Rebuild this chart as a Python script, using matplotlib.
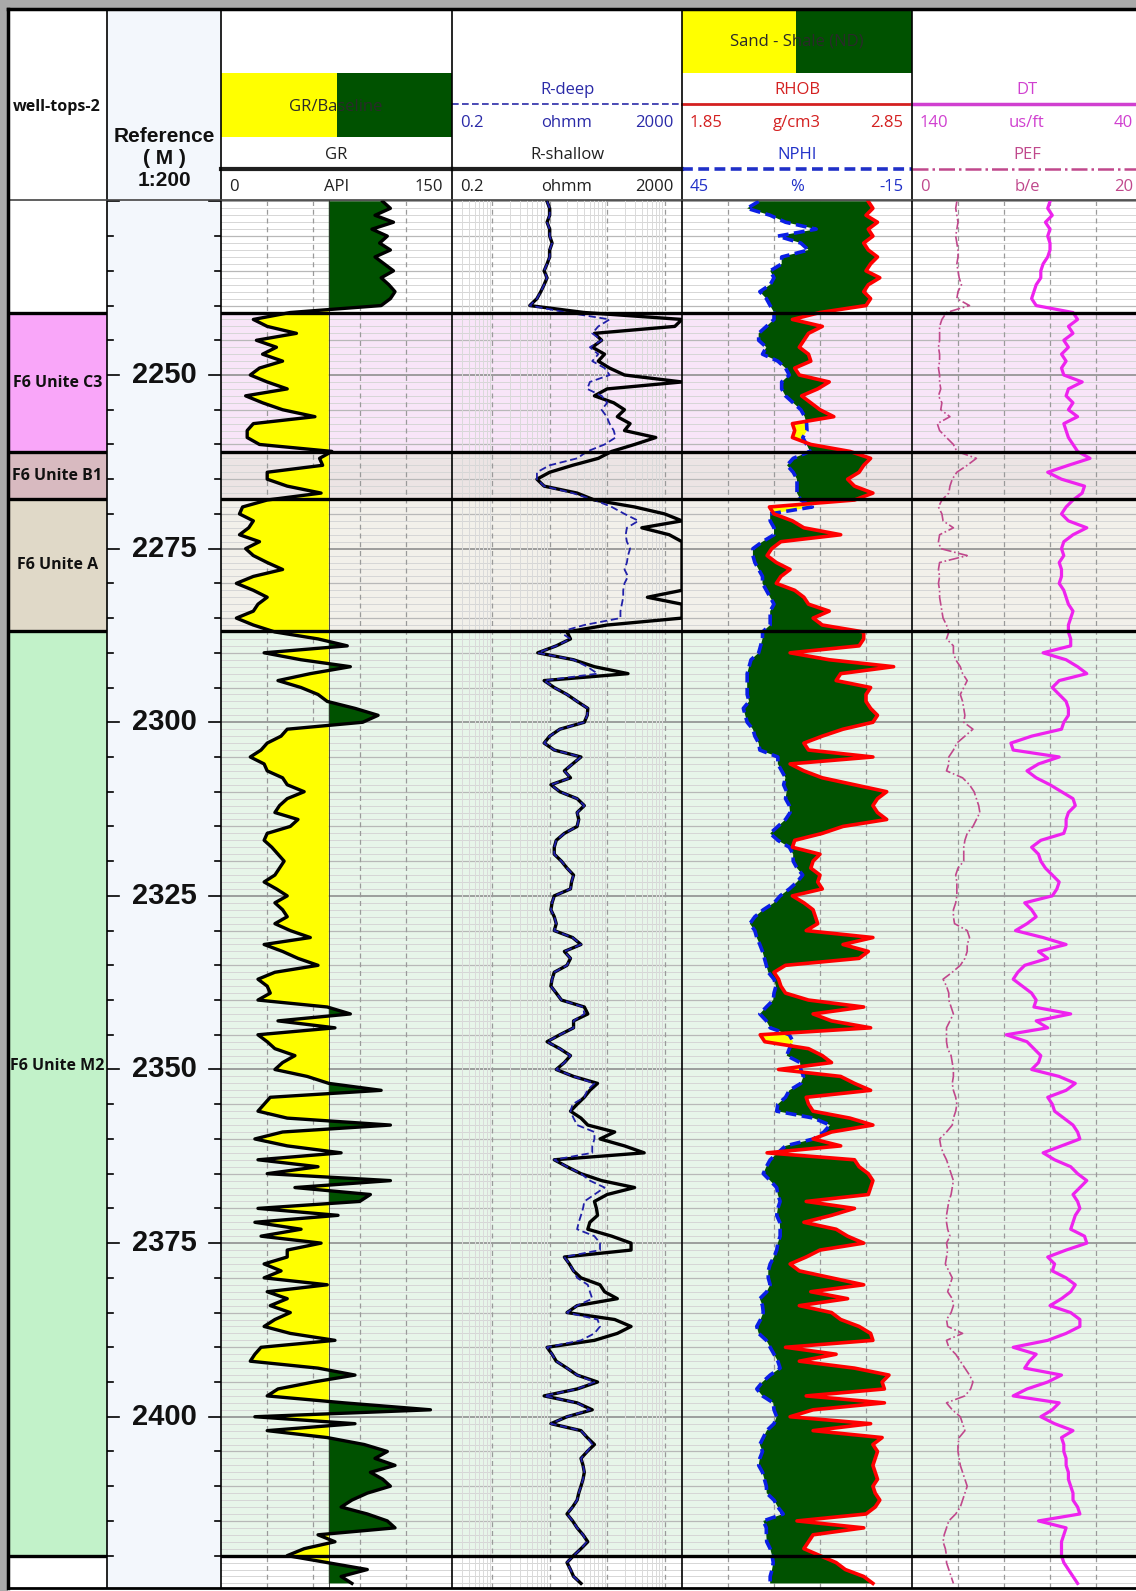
import numpy as np
import matplotlib
matplotlib.use("Agg")
import matplotlib.pyplot as plt
from matplotlib import font_manager
from matplotlib.patches import Rectangle

# ---- data (1 m samples, 2225 - 2424 m) ----
depth = np.arange(2225, 2425)

gr = [105, 110, 100, 112, 98, 108, 103, 110, 100, 106,
      112, 104, 109, 113, 110, 104, 45, 21, 30, 49,
      23, 36, 27, 40, 25, 19, 30, 43, 16, 27,
      40, 61, 21, 17, 17, 25, 72, 64, 66, 30,
      30, 43, 65, 30, 14, 12, 21, 18, 12, 25,
      16, 21, 30, 40, 21, 10, 21, 30, 24, 21,
      10, 21, 35, 63, 82, 28, 52, 84, 58, 37,
      52, 63, 69, 87, 102, 92, 43, 39, 30, 26,
      19, 28, 30, 40, 43, 54, 43, 38, 35, 50,
      45, 30, 28, 33, 37, 41, 38, 35, 28, 36,
      43, 35, 40, 43, 35, 45, 58, 28, 40, 50,
      63, 35, 24, 30, 32, 24, 69, 84, 37, 74,
      24, 30, 35, 48, 40, 35, 56, 70, 104, 32,
      28, 24, 43, 110, 40, 22, 43, 78, 24, 63,
      30, 110, 48, 97, 90, 24, 76, 22, 52, 26,
      65, 43, 43, 28, 39, 28, 69, 30, 43, 32,
      45, 35, 28, 45, 74, 26, 22, 19, 63, 87,
      60, 37, 30, 80, 136, 22, 87, 30, 69, 93,
      108, 100, 113, 97, 105, 110, 95, 85, 78, 95,
      108, 113, 63, 74, 54, 43, 69, 95, 78, 85]

r_shallow = [9, 10, 10, 9, 10, 10, 11, 10, 10, 9,
             8, 9, 8, 7, 6, 4.5, 40, 2000, 1500, 60,
             80, 55, 90, 70, 110, 200, 2000, 100, 60, 130,
             200, 150, 250, 200, 700, 300, 120, 70, 25, 10,
             6, 8, 30, 60, 300, 1000, 2000, 400, 1200, 2000,
             2000, 2000, 2000, 2000, 2000, 2000, 2000, 500, 2000, 2000,
             2000, 100, 20, 23, 13, 6.2, 26, 60, 230, 8,
             12, 20, 30, 46, 45, 40, 15, 10, 8, 12,
             35, 25, 18, 23, 10.5, 15, 30, 40, 30, 32,
             30, 18, 13, 12, 12, 16, 20, 26, 24, 23,
             12, 11, 10.5, 12, 13, 12, 25, 35, 18, 23,
             20, 12, 11, 10.5, 13, 16, 40, 46, 26, 26,
             15, 9, 15, 23, 18, 13, 26, 68, 50, 40,
             30, 23, 35, 46, 135, 75, 200, 440, 12, 20,
             35, 80, 300, 100, 60, 65, 68, 50, 46, 120,
             260, 260, 18, 22, 26, 35, 75, 90, 150, 30,
             20, 135, 260, 150, 60, 9, 11, 13, 20, 30,
             68, 30, 8, 30, 55, 20, 10.5, 35, 45, 60,
             45, 35, 38, 40, 38, 35, 32, 30, 25, 20,
             25, 30, 38, 46, 35, 26, 20, 23, 26, 35]

r_deep = [9, 10, 10, 9, 10, 10, 11, 10, 10, 9,
          8, 9, 8, 7, 6, 4.5, 20, 110, 70, 55,
          80, 50, 70, 55, 90, 110, 50, 45, 80, 100,
          80, 98, 110, 130, 140, 90, 45, 30, 10, 6,
          6, 8, 25, 60, 120, 200, 350, 220, 210, 220,
          250, 230, 220, 200, 230, 200, 190, 190, 180, 170,
          170, 40, 15, 23, 13, 6.2, 26, 45, 68, 8,
          12, 20, 30, 46, 45, 40, 15, 10, 8, 12,
          35, 25, 18, 23, 10.5, 15, 30, 40, 30, 32,
          30, 18, 13, 12, 12, 16, 20, 26, 24, 23,
          12, 11, 10.5, 12, 13, 12, 25, 35, 18, 23,
          20, 12, 11, 10.5, 13, 16, 38, 40, 26, 26,
          15, 9, 15, 23, 18, 13, 26, 60, 45, 40,
          25, 23, 26, 30, 60, 60, 55, 55, 12, 20,
          35, 50, 90, 60, 40, 38, 35, 32, 30, 60,
          75, 75, 18, 22, 26, 30, 46, 50, 55, 30,
          20, 68, 75, 60, 35, 9, 11, 13, 20, 30,
          60, 30, 8, 30, 50, 20, 10.5, 35, 45, 55,
          45, 35, 38, 40, 38, 35, 32, 30, 25, 20,
          25, 30, 38, 44, 35, 26, 20, 23, 26, 35]

nphi = [25, 28, 22, 18, 10, 20, 14, 12, 19, 19,
        22, 21, 22, 24.7, 23, 22, 21, 21, 23, 25,
        25, 23, 24, 20, 18, 17, 19, 19, 18, 16,
        14, 13, 12.5, 12.4, 13.5, 12.5, 11.6, 16, 17.6, 16,
        15, 15, 15, 14, 11, 22, 22, 21, 21, 24,
        26.5, 26.5, 26, 25, 24, 24, 23, 22, 21, 22,
        22, 22, 24, 24, 24.5, 25, 27, 27.5, 28, 28,
        28, 28, 27.5, 29, 28.5, 28, 26.5, 26, 25, 24.7,
        20, 20, 19, 18, 18.5, 17.7, 18, 17, 16.8, 18,
        20, 22, 20, 17, 16, 16, 15, 13.5, 15, 17,
        19.4, 21, 23.8, 26, 27.3, 26, 25.5, 24.7, 24, 23.5,
        23, 22.5, 21, 20.5, 21, 21.2, 23, 24.7, 23, 22,
        17, 16, 17, 17.7, 14.2, 14, 13.3, 14, 17, 18,
        20, 20.3, 10.7, 6.4, 8, 10.7, 18, 20, 22, 23,
        23.8, 22, 20.3, 20, 19.4, 20, 20.3, 19.5, 19.4, 19.4,
        20, 20.3, 21, 22, 22.5, 22.5, 22, 22.9, 24.7, 24,
        23.8, 24.5, 25.5, 25, 23, 22, 21, 20, 19.4, 22,
        24, 25.5, 24, 21.2, 21, 20.3, 21, 22.9, 23.8, 24.7,
        24, 24.7, 25, 24, 23.5, 23, 22.9, 21, 20, 18.6,
        23.8, 23, 23, 22.9, 22, 21.5, 21.2, 21.5, 22, 22]

rhob = [2.66, 2.68, 2.65, 2.70, 2.66, 2.68, 2.64, 2.66, 2.70, 2.67,
        2.65, 2.71, 2.66, 2.64, 2.67, 2.65, 2.45, 2.33, 2.46, 2.40,
        2.38, 2.36, 2.40, 2.41, 2.34, 2.36, 2.49, 2.44, 2.37, 2.41,
        2.45, 2.51, 2.33, 2.34, 2.33, 2.41, 2.58, 2.67, 2.64, 2.62,
        2.57, 2.60, 2.68, 2.60, 2.23, 2.25, 2.33, 2.38, 2.54, 2.28,
        2.24, 2.22, 2.26, 2.32, 2.28, 2.26, 2.34, 2.38, 2.40, 2.49,
        2.42, 2.46, 2.64, 2.64, 2.62, 2.32, 2.49, 2.77, 2.54, 2.52,
        2.67, 2.65, 2.65, 2.67, 2.70, 2.68, 2.55, 2.46, 2.38, 2.40,
        2.68, 2.32, 2.38, 2.46, 2.60, 2.74, 2.70, 2.68, 2.70, 2.74,
        2.55, 2.46, 2.34, 2.33, 2.45, 2.42, 2.41, 2.45, 2.44, 2.46,
        2.33, 2.38, 2.42, 2.43, 2.44, 2.39, 2.68, 2.55, 2.66, 2.62,
        2.30, 2.25, 2.27, 2.28, 2.30, 2.40, 2.64, 2.42, 2.50, 2.67,
        2.19, 2.21, 2.40, 2.46, 2.50, 2.27, 2.54, 2.60, 2.67, 2.39,
        2.40, 2.42, 2.58, 2.68, 2.50, 2.42, 2.54, 2.22, 2.60, 2.62,
        2.66, 2.68, 2.67, 2.66, 2.39, 2.60, 2.50, 2.38, 2.52, 2.57,
        2.64, 2.45, 2.39, 2.32, 2.36, 2.50, 2.64, 2.41, 2.57, 2.36,
        2.50, 2.54, 2.62, 2.67, 2.68, 2.30, 2.52, 2.36, 2.60, 2.75,
        2.72, 2.73, 2.39, 2.73, 2.42, 2.32, 2.67, 2.42, 2.72, 2.68,
        2.70, 2.69, 2.68, 2.69, 2.70, 2.68, 2.69, 2.71, 2.69, 2.65,
        2.35, 2.64, 2.42, 2.40, 2.38, 2.45, 2.52, 2.56, 2.64, 2.68]

dt = [80, 81, 79, 82, 80, 81, 80, 80, 81, 83,
      84, 84, 86, 87, 88, 86, 70, 68, 72, 70,
      74, 72, 75, 73, 75, 74, 66, 72, 73, 70,
      72, 68, 74, 73, 72, 70, 68, 62.6, 72, 81,
      75, 65, 66, 70, 73, 75, 72, 64, 70, 74,
      75, 74, 76, 75, 75, 76, 74, 73, 72, 70,
      71, 72, 72, 71, 71, 83, 73, 68, 64, 76,
      79, 76, 73, 72, 72, 74, 75, 88, 97, 96,
      76, 85, 90, 86, 80, 75, 70, 69, 72, 73,
      73, 74, 84, 88, 85, 84, 82, 79, 76, 77,
      79, 91, 88, 86, 90, 95, 83, 73, 85, 81,
      91, 94, 96, 92, 88, 86, 87, 71, 86, 81,
      99, 90, 87, 84, 85, 88, 76, 69, 73, 81,
      79, 78, 74, 70, 68, 67, 75, 83, 78, 71,
      68, 64, 67, 70, 68, 67, 69, 70, 71, 65,
      64, 73, 81, 78, 79, 73, 69, 71, 75, 80,
      71, 67, 67, 73, 81, 96, 86, 89, 91, 75,
      81, 90, 96, 76, 79, 84, 78, 70, 75, 74,
      74, 73, 73, 72, 72, 71, 70, 70, 68, 67,
      85, 73, 74, 75, 75, 75, 74, 72, 70, 68]

pef = [3.9, 3.8, 3.9, 4.0, 3.9, 3.8, 3.9, 4.0, 4.0, 3.9,
       4.0, 4.1, 4.3, 4.0, 3.9, 5.0, 3.0, 2.6, 2.4, 2.4,
       2.4, 2.3, 2.4, 2.4, 2.3, 2.4, 2.4, 2.5, 2.3, 2.6,
       2.5, 3.3, 2.2, 2.4, 3.0, 3.6, 3.9, 5.6, 4.8, 3.9,
       3.5, 3.3, 3.2, 2.6, 2.3, 2.6, 2.7, 3.6, 2.4, 2.3,
       2.5, 4.8, 2.4, 2.3, 2.4, 2.3, 2.4, 2.4, 2.5, 2.6,
       2.7, 3.0, 3.2, 3.0, 3.6, 3.6, 3.8, 4.2, 4.4, 4.8,
       4.5, 4.2, 4.4, 4.5, 4.6, 4.5, 5.3, 4.6, 3.9, 3.6,
       3.2, 3.2, 3.0, 4.4, 5.0, 5.4, 5.6, 5.8, 5.9, 5.6,
       5.3, 4.8, 4.6, 4.5, 4.5, 4.5, 4.0, 3.8, 3.9, 3.9,
       3.9, 3.8, 3.6, 3.6, 3.7, 4.8, 5.0, 4.8, 4.8, 4.6,
       4.2, 3.5, 2.7, 3.0, 3.2, 3.2, 3.4, 3.6, 3.3, 3.0,
       3.0, 3.0, 3.1, 3.4, 3.5, 3.6, 3.6, 3.5, 3.6, 3.8,
       3.9, 3.8, 3.6, 3.5, 3.0, 2.4, 2.5, 2.7, 3.0, 3.2,
       3.4, 3.6, 3.5, 3.4, 3.2, 3.1, 3.0, 3.0, 3.1, 3.3,
       3.0, 3.1, 3.0, 2.9, 3.2, 3.5, 3.3, 3.1, 3.5, 3.6,
       3.4, 3.0, 3.1, 4.4, 3.0, 3.2, 3.8, 4.2, 4.6, 5.0,
       5.3, 5.1, 4.6, 3.0, 3.5, 4.2, 4.4, 4.6, 4.1, 4.0,
       4.0, 4.1, 4.2, 4.4, 4.6, 4.8, 4.6, 4.4, 4.2, 3.8,
       3.2, 3.0, 2.8, 2.7, 2.9, 3.0, 3.0, 3.2, 3.4, 3.6]

gr, r_shallow, r_deep = np.array(gr, float), np.array(r_shallow, float), np.array(r_deep, float)
nphi, rhob, dt, pef = np.array(nphi, float), np.array(rhob, float), np.array(dt, float), np.array(pef, float)

# well tops
top_names = ["F6 Unite C3", "F6 Unite B1", "F6 Unite A", "F6 Unite M2"]
top_depth = [2241.07, 2261.09, 2267.85, 2286.86]
base_depth = [2261.09, 2267.85, 2286.86, 2420.0]
top_colors = ["#f9a6f9", "#d8bac0", "#e0d9c8", "#c2f2c9"]
zone_bg = ["#f8e5f8", "#ece4e4", "#f2f0ea", "#e7f5e9"]

GR_BASE = 70
D_TOP, D_BOT = 2224.8, 2424.66

# ---- figure ----
W, H = 1136, 1591
fig = plt.figure(figsize=(W / 100, H / 100), dpi=100)
fig.patch.set_facecolor("#a9a9a9")
fig.add_artist(Rectangle((8 / W, 0), 1, 1 - 9 / H, transform=fig.transFigure,
                         facecolor="white", edgecolor="none", zorder=-5))

names = {f.name for f in font_manager.fontManager.ttflist}
NARROW = "Liberation Sans Narrow" if "Liberation Sans Narrow" in names else "Open Sans"
HSIZE = 13 if NARROW == "Liberation Sans Narrow" else 12
TSIZE = 13 if NARROW == "Liberation Sans Narrow" else 11.5
BOLD = "Liberation Sans" if "Liberation Sans" in names else "DejaVu Sans"

YELLOW = "#ffff00"
GREEN = "#005200"
Y0, Y1 = 200, 1588


def add_track(x0, x1):
    ax = fig.add_axes([x0 / W, 1 - Y1 / H, (x1 - x0) / W, (Y1 - Y0) / H])
    ax.set_ylim(D_BOT, D_TOP)
    for s in ax.spines.values():
        s.set_visible(False)
    ax.set_xticks([])
    ax.set_yticks([])
    ax.patch.set_alpha(0)
    return ax


def background(ax):
    for t, b, c in zip(top_depth, base_depth, zone_bg):
        ax.axhspan(t, b, color=c, lw=0, zorder=0)
    for d in range(int(np.ceil(D_TOP)), int(D_BOT) + 1):
        if d % 25 == 0:
            ax.axhline(d, color="#8f8f8f", lw=1.2, zorder=1)
        elif d % 5 == 0:
            ax.axhline(d, color="#b8b8b8", lw=0.9, zorder=1)
        else:
            ax.axhline(d, color="#d6d6d6", lw=0.7, zorder=1)


def top_lines(ax):
    for t in top_depth + [base_depth[-1]]:
        ax.axhline(t, color="black", lw=2.4, zorder=8)


def vgrid(ax, xs):
    for x in xs:
        ax.axvline(x, color="#9a9a9a", lw=0.9, ls=(0, (4, 3)), zorder=1)


# tops column
ax_top = add_track(8, 107)
ax_top.set_xlim(0, 1)
label_shift = [0, 0, 0, -4]
for t, b, c, n, s in zip(top_depth, base_depth, top_colors, top_names, label_shift):
    ax_top.axhspan(t, b, color=c, lw=0, zorder=0)
    ax_top.text(0.5, (t + b) / 2 + s, n, ha="center", va="center", family=NARROW,
                weight="bold", fontsize=TSIZE, color="#111111")
top_lines(ax_top)

# depth column
ax_d = add_track(107, 221)
ax_d.set_xlim(0, 1)
ax_d.patch.set_alpha(1)
ax_d.patch.set_facecolor("#f3f7fc")
for d in range(int(np.ceil(D_TOP / 5) * 5), int(D_BOT) + 1, 5):
    ln = 0.105 if d % 25 == 0 else 0.053
    ax_d.plot([0, ln], [d, d], color="black", lw=1.2)
    ax_d.plot([1 - ln, 1], [d, d], color="black", lw=1.2)
    if d % 25 == 0 and d - D_TOP > 5:
        ax_d.text(0.79, d, str(d), ha="right", va="center", family=BOLD,
                  weight="bold", fontsize=21, color="#111111")

# GR track
ax_gr = add_track(221, 452)
ax_gr.set_xlim(0, 150)
background(ax_gr)
vgrid(ax_gr, [30, 60, 90, 120])
ax_gr.fill_betweenx(depth, gr, GR_BASE, where=gr <= GR_BASE, interpolate=True,
                    color=YELLOW, lw=0, zorder=3)
ax_gr.fill_betweenx(depth, gr, GR_BASE, where=gr >= GR_BASE, interpolate=True,
                    color=GREEN, lw=0, zorder=3)
ax_gr.axvline(GR_BASE, color="#303030", lw=0.6, zorder=3)
ax_gr.plot(gr, depth, color="black", lw=2.4, zorder=5)
top_lines(ax_gr)

# resistivity track
ax_r = add_track(452, 682)
ax_r.set_xscale("log")
ax_r.set_xlim(0.2, 2000)
ax_r.set_xticks([])
ax_r.minorticks_off()
background(ax_r)
for dec in [0.1, 1, 10, 100, 1000]:
    for k in range(2, 10):
        x = k * dec
        if 0.2 < x < 2000:
            ax_r.axvline(x, color="#dadada", lw=0.7, zorder=1)
vgrid(ax_r, [1, 10, 100, 1000])
ax_r.plot(r_shallow, depth, color="black", lw=2.4, zorder=5)
ax_r.plot(r_deep, depth, color="#2020a8", lw=1.3, ls=(0, (4, 2)), zorder=6)
top_lines(ax_r)

# neutron-density track
ax_nd = add_track(682, 912)
ax_nd.set_xlim(1.85, 2.85)
background(ax_nd)
vgrid(ax_nd, [2.05, 2.25, 2.45, 2.65])
nphi_on_rhob = 1.85 + (45 - nphi) / 60.0
ax_nd.fill_betweenx(depth, nphi_on_rhob, rhob, where=rhob >= nphi_on_rhob,
                    interpolate=True, color=GREEN, lw=0, zorder=3)
ax_nd.fill_betweenx(depth, nphi_on_rhob, rhob, where=rhob < nphi_on_rhob,
                    interpolate=True, color=YELLOW, lw=0, zorder=3)
ax_np = ax_nd.twiny()
ax_np.set_xlim(45, -15)
ax_np.set_ylim(D_BOT, D_TOP)
ax_np.axis("off")
ax_np.plot(nphi, depth, color="#0a1ee6", lw=2.6, ls=(0, (3, 1.5)), zorder=5)
ax_rh = ax_np.twiny()
ax_rh.set_xlim(1.85, 2.85)
ax_rh.set_ylim(D_BOT, D_TOP)
ax_rh.axis("off")
ax_rh.plot(rhob, depth, color="#ff0000", lw=2.6)
for t in top_depth + [base_depth[-1]]:
    ax_rh.axhline(t, color="black", lw=2.4)

# DT / PEF track
ax_dt = add_track(912, 1142)
ax_dt.set_xlim(140, 40)
background(ax_dt)
vgrid(ax_dt, [120, 100, 80, 60])
ax_dt.plot(dt, depth, color="#ee22ee", lw=2.3, zorder=5)
ax_pef = ax_dt.twiny()
ax_pef.set_xlim(0, 20)
ax_pef.set_ylim(D_BOT, D_TOP)
ax_pef.axis("off")
ax_pef.plot(pef, depth, color="#c0488c", lw=1.2, ls="-.")
for t in top_depth + [base_depth[-1]]:
    ax_pef.axhline(t, color="black", lw=2.4)

# ---- header / frame overlay in pixel coordinates ----
ov = fig.add_axes([0, 0, 1, 1])
ov.set_xlim(0, W)
ov.set_ylim(H, 0)
ov.axis("off")

ov.add_patch(Rectangle((107, 9), 114, 191, facecolor="#f3f7fc", edgecolor="none"))
ov.add_patch(Rectangle((221, 73), 116, 64, facecolor=YELLOW, edgecolor="none"))
ov.add_patch(Rectangle((337, 73), 115, 64, facecolor=GREEN, edgecolor="none"))
ov.add_patch(Rectangle((682, 9), 114, 64, facecolor=YELLOW, edgecolor="none"))
ov.add_patch(Rectangle((796, 9), 116, 64, facecolor=GREEN, edgecolor="none"))

ov.text(336, 107, "GR/Baseline", ha="center", va="center", family=NARROW,
        fontsize=HSIZE, color="#2a2a2a")
ov.text(797, 42, "Sand - Shale (ND)", ha="center", va="center", family=NARROW,
        fontsize=HSIZE, color="#2a2a2a")
ov.text(57, 107, "well-tops-2", ha="center", va="center", family=NARROW,
        weight="bold", fontsize=TSIZE, color="#111111")
ov.text(164, 136, "Reference", ha="center", va="center", family=BOLD,
        weight="bold", fontsize=15, color="#111111")
ov.text(164, 158, "( M )", ha="center", va="center", family=BOLD,
        weight="bold", fontsize=15, color="#111111")
ov.text(164, 181, "1:200", ha="center", va="center", family=BOLD,
        weight="bold", fontsize=15, color="#111111")

track_x0 = [221, 452, 682, 912]
track_x1 = [452, 682, 912, 1142]
row1 = [None,
        ("R-deep", "0.2", "ohmm", "2000", "#2a2aa8", (0, (4, 2)), 1.2),
        ("RHOB", "1.85", "g/cm3", "2.85", "#d42020", "-", 2.0),
        ("DT", "140", "us/ft", "40", "#d040d0", "-", 2.5)]
row2 = [("GR", "0", "API", "150", "#202020", "-", 3.0),
        ("R-shallow", "0.2", "ohmm", "2000", "#202020", "-", 3.0),
        ("NPHI", "45", "%", "-15", "#2030c8", (0, (3, 1.5)), 2.6),
        ("PEF", "0", "b/e", "20", "#c0488c", "-.", 1.8)]

for x0, x1, r1, r2 in zip(track_x0, track_x1, row1, row2):
    xc = (x0 + x1) / 2
    for info, yname, yline, yscale in [(r1, 90, 104, 123), (r2, 155, 169, 187)]:
        if info is None:
            continue
        name, lo, unit, hi, col, ls, lw = info
        ov.text(xc, yname, name, ha="center", va="center", family=NARROW,
                fontsize=HSIZE, color=col)
        ov.plot([x0, x1], [yline, yline], color=col, ls=ls, lw=lw)
        ov.text(x0 + 8, yscale, lo, ha="left", va="center", family=NARROW,
                fontsize=HSIZE, color=col)
        ov.text(xc, yscale, unit, ha="center", va="center", family=NARROW,
                fontsize=HSIZE, color=col)
        ov.text(x1 - 9, yscale, hi, ha="right", va="center", family=NARROW,
                fontsize=HSIZE, color=col)

# separators and frame
for x in [107, 221, 452, 682, 912]:
    ov.plot([x, x], [9, Y1], color="black", lw=1.2)
ov.plot([8, W], [Y0, Y0], color="#444444", lw=1.2)
ov.plot([8, W], [9, 9], color="black", lw=2.5)
ov.plot([8, 8], [9, Y1], color="black", lw=2.5)
ov.plot([8, W], [Y1, Y1], color="black", lw=2.0)

fig.savefig("out.png", dpi=100, facecolor=fig.get_facecolor())
